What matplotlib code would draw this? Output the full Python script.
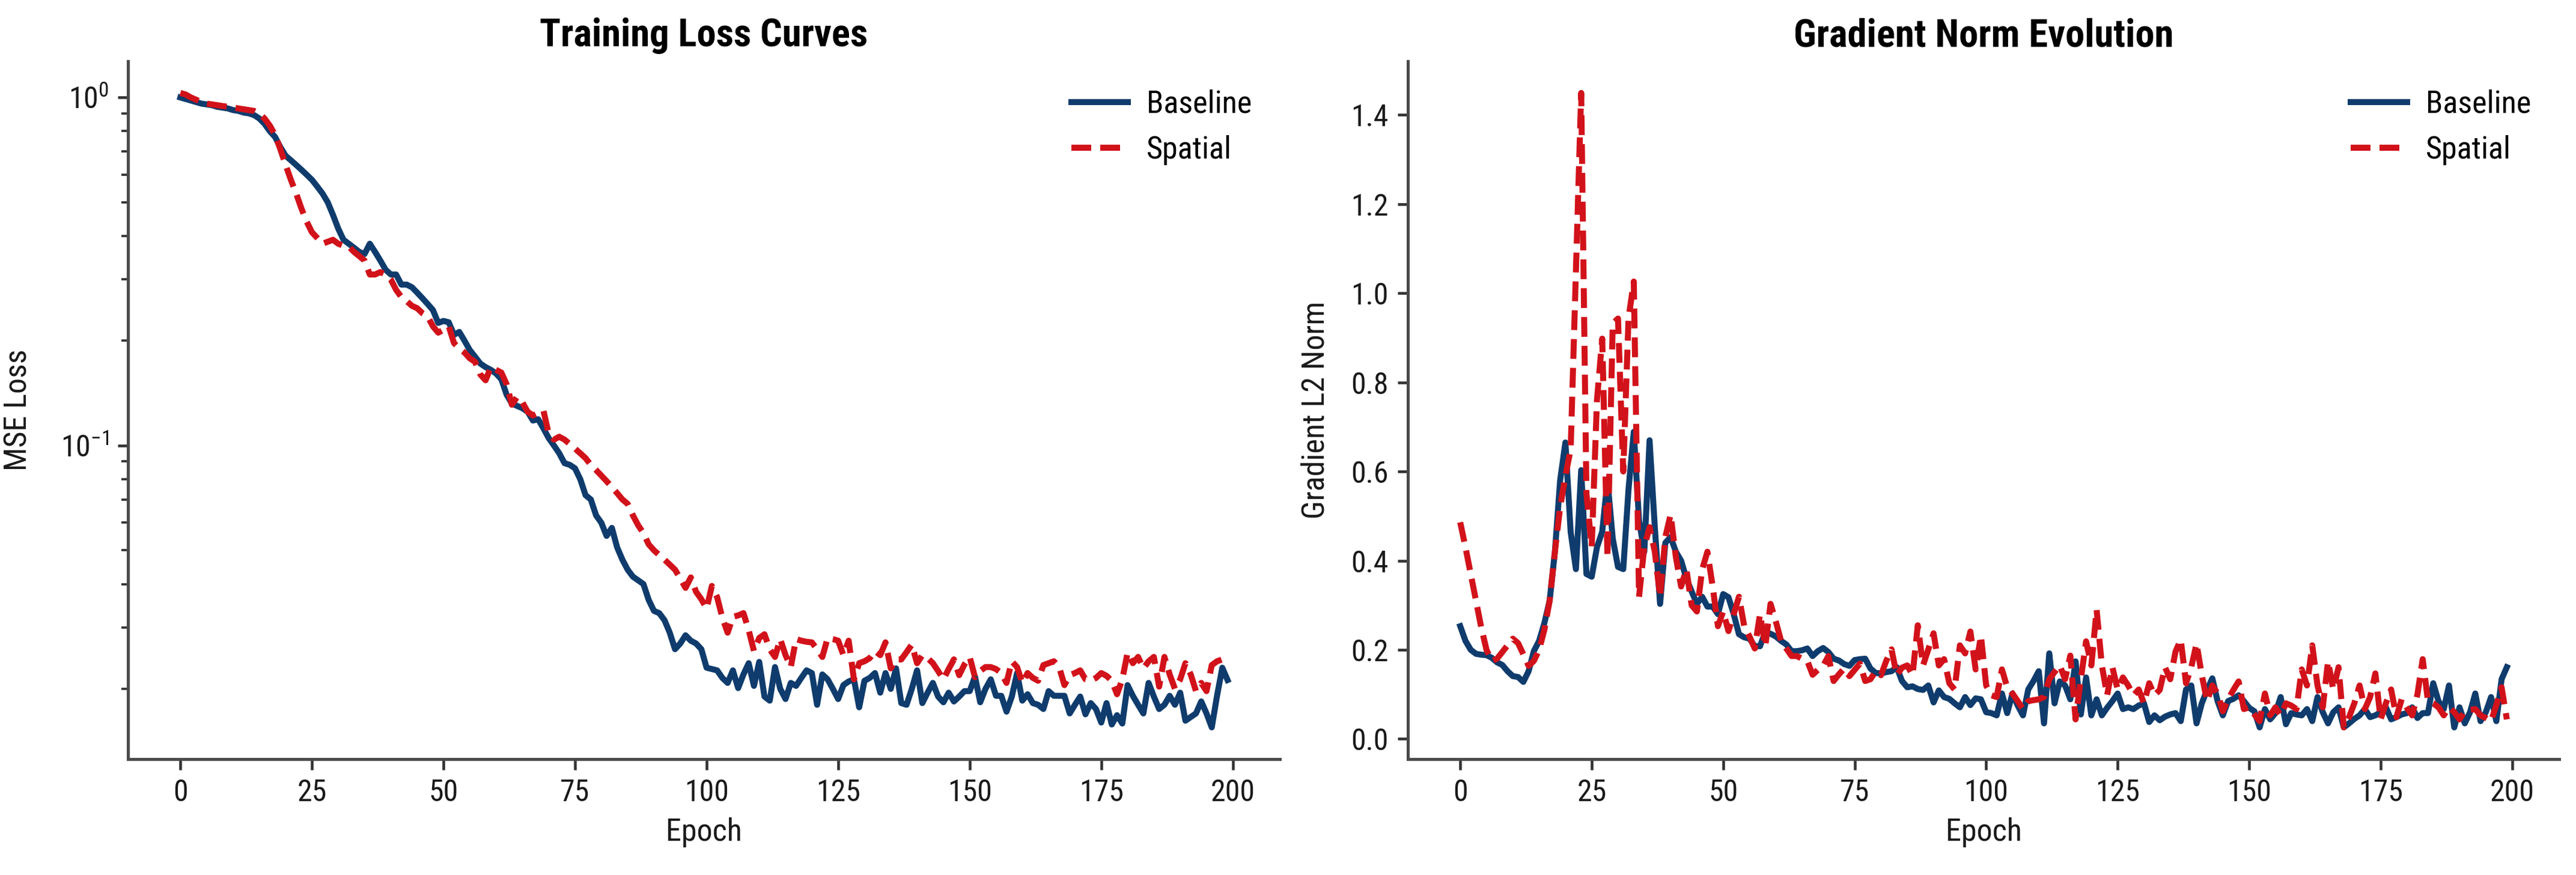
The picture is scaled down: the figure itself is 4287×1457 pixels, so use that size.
import matplotlib
matplotlib.use("Agg")
import matplotlib.pyplot as plt
import matplotlib.font_manager as fm

# ---------------- data ----------------
epochs = list(range(200))

loss_baseline = [
    1.0, 0.99, 0.98, 0.97, 0.96, 0.955, 0.95, 0.94, 0.935, 0.93,
    0.92, 0.915, 0.905, 0.90, 0.89, 0.87, 0.84, 0.80, 0.77, 0.72,
    0.68, 0.66, 0.64, 0.62, 0.60, 0.58, 0.555, 0.53, 0.50, 0.46,
    0.42, 0.39, 0.38, 0.37, 0.36, 0.355, 0.38, 0.36, 0.34, 0.32,
    0.31, 0.31, 0.29, 0.29, 0.285, 0.275, 0.265, 0.255, 0.245, 0.225,
    0.228, 0.226, 0.208, 0.212, 0.20, 0.188, 0.18, 0.172, 0.168, 0.165,
    0.161, 0.155, 0.14, 0.132, 0.13, 0.128, 0.125, 0.118, 0.119, 0.112,
    0.105, 0.100, 0.095, 0.089, 0.088, 0.086, 0.080, 0.072, 0.070, 0.063,
    0.060, 0.055, 0.058, 0.051, 0.047, 0.044, 0.042, 0.041, 0.040, 0.036,
    0.0335, 0.033, 0.0315, 0.029, 0.026, 0.027, 0.0285, 0.0275, 0.027, 0.026,
    0.023, 0.0228, 0.0226, 0.0215, 0.0208, 0.0226, 0.0201, 0.022, 0.0237, 0.0204,
    0.0239, 0.019, 0.0185, 0.0231, 0.020, 0.0187, 0.0208, 0.0204, 0.0215, 0.0226,
    0.0222, 0.018, 0.022, 0.0213, 0.020, 0.0187, 0.0205, 0.021, 0.0213, 0.0177,
    0.0211, 0.0215, 0.0222, 0.0195, 0.0222, 0.020, 0.0229, 0.0182, 0.018, 0.020,
    0.0226, 0.0182, 0.0195, 0.0208, 0.019, 0.0183, 0.0195, 0.0184, 0.019, 0.0197,
    0.0197, 0.0217, 0.0183, 0.020, 0.0213, 0.0191, 0.0191, 0.0172, 0.019, 0.0222,
    0.0185, 0.0193, 0.0182, 0.018, 0.0175, 0.0197, 0.0191, 0.0191, 0.0191, 0.017,
    0.018, 0.019, 0.0169, 0.0182, 0.0175, 0.016, 0.0182, 0.0158, 0.0168, 0.0159,
    0.0205, 0.0191, 0.018, 0.017, 0.0208, 0.019, 0.0175, 0.018, 0.0191, 0.018,
    0.0195, 0.0162, 0.0166, 0.017, 0.0184, 0.017, 0.0155, 0.0191, 0.023, 0.0212,
]

loss_spatial = [
    1.03, 1.02, 1.0, 0.985, 0.97, 0.96, 0.955, 0.95, 0.945, 0.94,
    0.935, 0.93, 0.925, 0.92, 0.915, 0.90, 0.87, 0.83, 0.78, 0.71,
    0.64, 0.58, 0.53, 0.48, 0.44, 0.41, 0.395, 0.38, 0.385, 0.39,
    0.38, 0.375, 0.373, 0.36, 0.35, 0.34, 0.31, 0.31, 0.315, 0.31,
    0.30, 0.28, 0.267, 0.26, 0.252, 0.248, 0.24, 0.235, 0.22, 0.211,
    0.215, 0.22, 0.197, 0.19, 0.185, 0.178, 0.174, 0.16, 0.154, 0.168,
    0.165, 0.162, 0.15, 0.131, 0.138, 0.133, 0.125, 0.122, 0.124, 0.126,
    0.108, 0.104, 0.106, 0.104, 0.101, 0.098, 0.095, 0.092, 0.088, 0.085,
    0.082, 0.079, 0.076, 0.073, 0.070, 0.068, 0.063, 0.059, 0.056, 0.052,
    0.050, 0.0485, 0.047, 0.0455, 0.044, 0.0415, 0.039, 0.0418, 0.038, 0.0362,
    0.034, 0.0395, 0.0367, 0.032, 0.029, 0.0322, 0.0325, 0.033, 0.0295, 0.0257,
    0.028, 0.0287, 0.026, 0.0247, 0.0278, 0.025, 0.0231, 0.0278, 0.0275, 0.0273,
    0.0272, 0.026, 0.0247, 0.028, 0.0278, 0.0275, 0.025, 0.0275, 0.0213, 0.0237,
    0.024, 0.0245, 0.0257, 0.025, 0.0272, 0.0229, 0.0243, 0.0243, 0.0255, 0.0268,
    0.0237, 0.025, 0.0245, 0.0237, 0.0225, 0.0213, 0.0228, 0.0243, 0.0219, 0.0235,
    0.0247, 0.0216, 0.0225, 0.0231, 0.0231, 0.0228, 0.0222, 0.0208, 0.024, 0.0231,
    0.0208, 0.0222, 0.0215, 0.0211, 0.0234, 0.0237, 0.024, 0.0231, 0.0205, 0.0219,
    0.0222, 0.0226, 0.0213, 0.0211, 0.0215, 0.0222, 0.0218, 0.0211, 0.0193, 0.0213,
    0.0254, 0.0237, 0.0247, 0.0229, 0.024, 0.0247, 0.0203, 0.0247, 0.022, 0.020,
    0.0213, 0.0237, 0.022, 0.0197, 0.0208, 0.0197, 0.0234, 0.024, 0.0243, 0.0237,
]

grad_baseline = [
    0.253, 0.22, 0.20, 0.191, 0.189, 0.188, 0.182, 0.172, 0.166, 0.152,
    0.141, 0.139, 0.128, 0.152, 0.197, 0.22, 0.26, 0.31, 0.42, 0.58,
    0.665, 0.464, 0.381, 0.603, 0.37, 0.364, 0.43, 0.465, 0.58, 0.45,
    0.386, 0.381, 0.56, 0.689, 0.49, 0.42, 0.67, 0.475, 0.303, 0.44,
    0.453, 0.42, 0.40, 0.36, 0.331, 0.303, 0.319, 0.297, 0.297, 0.28,
    0.325, 0.318, 0.28, 0.235, 0.228, 0.225, 0.208, 0.208, 0.24, 0.236,
    0.23, 0.22, 0.212, 0.197, 0.197, 0.199, 0.203, 0.186, 0.197, 0.204,
    0.195, 0.18, 0.176, 0.168, 0.164, 0.177, 0.179, 0.18, 0.158, 0.148,
    0.147, 0.15, 0.152, 0.161, 0.13, 0.116, 0.118, 0.112, 0.11, 0.12,
    0.082, 0.109, 0.094, 0.09, 0.08, 0.071, 0.094, 0.076, 0.091, 0.089,
    0.06, 0.058, 0.053, 0.102, 0.058, 0.102, 0.075, 0.053, 0.111, 0.13,
    0.152, 0.035, 0.192, 0.08, 0.129, 0.12, 0.089, 0.174, 0.055, 0.138,
    0.053, 0.089, 0.053, 0.07, 0.085, 0.102, 0.067, 0.071, 0.067, 0.075,
    0.08, 0.038, 0.053, 0.042, 0.05, 0.055, 0.058, 0.04, 0.111, 0.12,
    0.035, 0.08, 0.11, 0.136, 0.085, 0.053, 0.085, 0.09, 0.098, 0.085,
    0.07, 0.062, 0.026, 0.067, 0.044, 0.058, 0.094, 0.033, 0.058, 0.055,
    0.053, 0.067, 0.04, 0.094, 0.06, 0.035, 0.06, 0.071, 0.026, 0.035,
    0.045, 0.053, 0.067, 0.049, 0.053, 0.06, 0.071, 0.044, 0.049, 0.055,
    0.058, 0.071, 0.047, 0.058, 0.058, 0.125, 0.085, 0.067, 0.12, 0.026,
    0.071, 0.035, 0.06, 0.102, 0.04, 0.06, 0.094, 0.04, 0.134, 0.161,
]

grad_spatial = [
    0.486, 0.43, 0.37, 0.31, 0.25, 0.20, 0.175, 0.18, 0.195, 0.21,
    0.225, 0.215, 0.19, 0.164, 0.175, 0.20, 0.245, 0.31, 0.42, 0.52,
    0.59, 0.65, 1.05, 1.449, 0.55, 0.431, 0.76, 0.898, 0.408, 0.932,
    0.943, 0.60, 0.943, 1.026, 0.319, 0.431, 0.475, 0.42, 0.319, 0.453,
    0.503, 0.408, 0.342, 0.381, 0.30, 0.286, 0.38, 0.42, 0.342, 0.253,
    0.286, 0.242, 0.28, 0.319, 0.253, 0.23, 0.203, 0.28, 0.208, 0.303,
    0.264, 0.22, 0.203, 0.186, 0.186, 0.18, 0.175, 0.144, 0.155, 0.164,
    0.186, 0.13, 0.145, 0.158, 0.141, 0.155, 0.169, 0.13, 0.134, 0.152,
    0.143, 0.175, 0.201, 0.143, 0.16, 0.165, 0.143, 0.255, 0.165, 0.201,
    0.237, 0.165, 0.179, 0.125, 0.111, 0.21, 0.192, 0.241, 0.156, 0.232,
    0.12, 0.098, 0.094, 0.156, 0.116, 0.102, 0.085, 0.067, 0.085, 0.087,
    0.089, 0.094, 0.134, 0.15, 0.165, 0.134, 0.187, 0.044, 0.134, 0.219,
    0.165, 0.29, 0.165, 0.098, 0.161, 0.111, 0.138, 0.12, 0.098, 0.111,
    0.08, 0.125, 0.098, 0.11, 0.161, 0.134, 0.196, 0.223, 0.125, 0.161,
    0.214, 0.143, 0.085, 0.12, 0.102, 0.062, 0.089, 0.11, 0.129, 0.067,
    0.071, 0.055, 0.04, 0.102, 0.053, 0.071, 0.053, 0.08, 0.075, 0.067,
    0.156, 0.12, 0.21, 0.12, 0.071, 0.174, 0.111, 0.161, 0.026, 0.049,
    0.08, 0.12, 0.067, 0.094, 0.147, 0.044, 0.08, 0.111, 0.049, 0.089,
    0.07, 0.053, 0.10, 0.179, 0.085, 0.08, 0.071, 0.053, 0.071, 0.06,
    0.044, 0.062, 0.065, 0.067, 0.053, 0.047, 0.04, 0.076, 0.116, 0.044,
]

series_labels = ["Baseline", "Spatial"]
titles = ["Training Loss Curves", "Gradient Norm Evolution"]
xlabel = "Epoch"
ylabels = ["MSE Loss", "Gradient L2 Norm"]

# ---------------- style ----------------
names = {f.name for f in fm.fontManager.ttflist}
FAM = "DejaVu Sans"
for cand in ["Roboto Condensed", "Open Sans Condensed", "Fira Sans Condensed",
             "PT Sans Narrow", "Liberation Sans Narrow", "Archivo Narrow"]:
    if cand in names:
        FAM = cand
        break

plt.rcParams["font.family"] = [FAM, "DejaVu Sans"]
plt.rcParams["mathtext.fontset"] = "custom"
plt.rcParams["mathtext.rm"] = FAM
plt.rcParams["mathtext.it"] = FAM + ":italic"
plt.rcParams["mathtext.bf"] = FAM + ":bold"

C_BASE = "#0f3c6d"
C_SPAT = "#d2121a"
SPINE = "#4a4a4a"
TXT = "#1a1a1a"

fig = plt.figure(figsize=(4287 / 300, 1457 / 300), dpi=300)
ax1 = fig.add_axes([0.04969, 0.13246, 0.44717, 0.79753])
ax2 = fig.add_axes([0.54654, 0.13246, 0.44693, 0.79753])

dash = (0, (3.3, 1.5))

ax1.plot(epochs, loss_baseline, color=C_BASE, lw=2.4, label=series_labels[0])
ax1.plot(epochs, loss_spatial, color=C_SPAT, lw=2.4, ls=dash, label=series_labels[1])
ax1.set_yscale("log")

ax2.plot(epochs, grad_baseline, color=C_BASE, lw=2.4, label=series_labels[0])
ax2.plot(epochs, grad_spatial, color=C_SPAT, lw=2.4, ls=dash, label=series_labels[1])

for ax, t, yl in zip([ax1, ax2], titles, ylabels):
    ax.set_title(t, fontsize=15.5, fontweight="bold", color="black")
    ax.set_xlabel(xlabel, fontsize=12.5, color=TXT)
    ax.set_ylabel(yl, fontsize=12.5, color=TXT)
    ax.set_xticks([0, 25, 50, 75, 100, 125, 150, 175, 200])
    for s in ["top", "right"]:
        ax.spines[s].set_visible(False)
    for s in ["left", "bottom"]:
        ax.spines[s].set_color(SPINE)
        ax.spines[s].set_linewidth(1.2)
    ax.tick_params(axis="both", which="major", length=4.2, width=1.1,
                   color="#333333", labelsize=12, labelcolor=TXT, pad=3.5)
    ax.tick_params(axis="both", which="minor", length=2.6, width=0.9, color="#333333")
    ax.legend(loc="upper right", frameon=False, fontsize=12.5,
              handlelength=1.8, handletextpad=0.6)

ax1.yaxis.set_label_coords(-0.0824, 0.5)
ax2.yaxis.set_label_coords(-0.0673, 0.5)

fig.savefig("out.png", dpi=300)
